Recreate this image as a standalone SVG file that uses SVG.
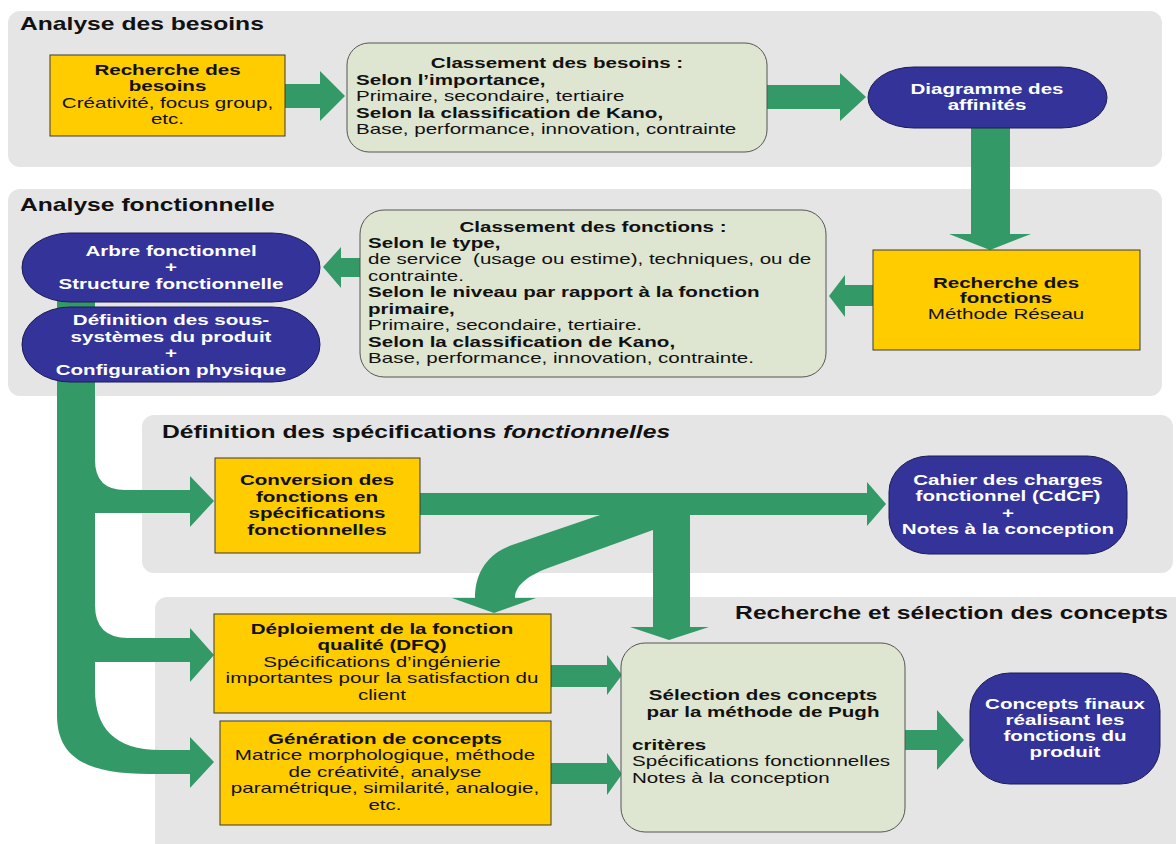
<svg xmlns="http://www.w3.org/2000/svg" width="1176" height="844" viewBox="0 0 1176 844">
<style>
.panel{fill:#e5e5e5}
.yel{fill:#ffcc00;stroke:#3a3a3a;stroke-width:1}
.grn{fill:#dee5d0;stroke:#555;stroke-width:1}
.nav{fill:#333399;stroke:#1c1c55;stroke-width:1}
.arr{fill:#339966}
text{font-family:"Liberation Sans",Arial,sans-serif;font-size:15px;fill:#111}
.b{font-weight:bold}
.w{fill:#fff}
.h{font-size:18px;font-weight:bold}
.c{text-anchor:middle}
</style>
<rect width="1176" height="844" fill="#fff"/>
<g id="panels">
<rect class="panel" x="8" y="11" width="1154" height="156" rx="12"/>
<rect class="panel" x="8" y="189" width="1154" height="207" rx="12"/>
<rect class="panel" x="142" y="415" width="1031" height="158" rx="12"/>
<rect class="panel" x="155" y="597" width="1040" height="260" rx="12"/>
<text class="h" transform="translate(20,30) scale(1.37,1)">Analyse des besoins</text>
<text class="h" transform="translate(20,211) scale(1.37,1)">Analyse fonctionnelle</text>
<text class="h" transform="translate(162,438) scale(1.37,1)">Définition des spécifications <tspan font-style="italic">fonctionnelles</tspan></text>
<text class="h" text-anchor="end" transform="translate(1168,619) scale(1.37,1)">Recherche et sélection des concepts</text>
</g>
<g id="connectors">
<path class="arr" d="M285,84 L320,84 L320,71 L345,96 L320,121 L320,108 L285,108 Z"/>
<path class="arr" d="M767,85 L840,85 L840,73 L866,97 L840,121 L840,109 L767,109 Z"/>
<path class="arr" d="M971,128 L1010,128 L1010,234 L1031,234 L990,250 L949,234 L971,234 Z"/>
<path class="arr" d="M873,285 L845,285 L845,275 L829,296 L845,317 L845,306 L873,306 Z"/>
<path class="arr" d="M360,258 L341,258 L341,247 L323,267 L341,288 L341,277 L360,277 Z"/>
<path class="arr" d="M57,290 L95,290 L95,460 Q95,490 125,490 L190,490 L190,476 L214,501 L190,527 L190,513 L95,513 L95,605 Q95,638 128,638 L190,638 L190,628 L214,655 L190,682 L190,662 L95,662 L95,690 C95,728 115,750 160,750 L190,750 L190,737 L214,762 L190,788 L190,774 L150,774 C90,774 57,760 57,715 Z"/>
<path class="arr" d="M420,493 L867,493 L867,482 L886,504 L867,526 L867,515 L420,515 Z"/>
<path class="arr" d="M653,514 L690,514 L690,627 L709,627 L669,640 L630,627 L653,627 Z"/>
<path class="arr" d="M603,514 L653,514 L653,530 L548,568 C527,576 515,586 515,598 L536,598 L494,613 L452,598 L475,598 C475,570 490,553 512,545 Z"/>
<path class="arr" d="M551,665 L607,665 L607,655 L622,675 L607,695 L607,687 L551,687 Z"/>
<path class="arr" d="M551,763 L607,763 L607,753 L622,774 L607,795 L607,784 L551,784 Z"/>
<path class="arr" d="M905,730 L937,730 L937,710 L964,740 L937,770 L937,750 L905,750 Z"/>
</g>
<g id="n-recherche-besoins">
<rect class="yel" x="50" y="55" width="235" height="81"/>
<text class="c" transform="translate(167.5,75) scale(1.37,1)"><tspan class="b" x="0" y="0">Recherche des</tspan><tspan class="b" x="0" y="16.5">besoins</tspan><tspan x="0" y="33">Créativité, focus group,</tspan><tspan x="0" y="49.5">etc.</tspan></text>
</g>
<g id="n-classement-besoins">
<rect class="grn" x="347" y="43" width="420" height="109" rx="22"/>
<text class="b c" transform="translate(557,68) scale(1.37,1)">Classement des besoins :</text>
<text transform="translate(356,85) scale(1.37,1)"><tspan class="b" x="0" y="0">Selon l’importance,</tspan><tspan x="0" y="16.5">Primaire, secondaire, tertiaire</tspan><tspan class="b" x="0" y="33">Selon la classification de Kano,</tspan><tspan x="0" y="49.5">Base, performance, innovation, contrainte</tspan></text>
</g>
<g id="n-diagramme">
<rect class="nav" x="868" y="67" width="239" height="61" rx="46" ry="30.5"/>
<text class="b w c" transform="translate(987,94) scale(1.37,1)"><tspan x="0" y="0">Diagramme des</tspan><tspan x="0" y="16">affinités</tspan></text>
</g>
<g id="n-recherche-fonctions">
<rect class="yel" x="873" y="250" width="267" height="100"/>
<text class="c" transform="translate(1006,288) scale(1.37,1)"><tspan class="b" x="0" y="0">Recherche des</tspan><tspan class="b" x="0" y="15.5">fonctions</tspan><tspan x="0" y="31">Méthode Réseau</tspan></text>
</g>
<g id="n-classement-fonctions">
<rect class="grn" x="360" y="210" width="466" height="167" rx="24"/>
<text class="b c" transform="translate(593,232) scale(1.37,1)">Classement des fonctions :</text>
<text transform="translate(368,248) scale(1.37,1)"><tspan class="b" x="0" y="0">Selon le type,</tspan><tspan x="0" y="16.5">de service&#160; (usage ou estime), techniques, ou de</tspan><tspan x="0" y="33">contrainte.</tspan><tspan class="b" x="0" y="49.5">Selon le niveau par rapport à la fonction</tspan><tspan class="b" x="0" y="66">primaire,</tspan><tspan x="0" y="82.5">Primaire, secondaire, tertiaire.</tspan><tspan class="b" x="0" y="99">Selon la classification de Kano,</tspan><tspan x="0" y="115.5">Base, performance, innovation, contrainte.</tspan></text>
</g>
<g id="n-arbre">
<rect class="nav" x="22" y="233" width="298" height="69" rx="48" ry="34.5"/>
<text class="b w c" transform="translate(171,256) scale(1.37,1)"><tspan x="0" y="0">Arbre fonctionnel</tspan><tspan x="0" y="16.5">+</tspan><tspan x="0" y="33">Structure fonctionnelle</tspan></text>
</g>
<g id="n-definition">
<rect class="nav" x="22" y="307" width="298" height="75" rx="48" ry="37.5"/>
<text class="b w c" transform="translate(171,325) scale(1.37,1)"><tspan x="0" y="0">Définition des sous-</tspan><tspan x="0" y="16.7">systèmes du produit</tspan><tspan x="0" y="33.3">+</tspan><tspan x="0" y="50">Configuration physique</tspan></text>
</g>
<g id="n-conversion">
<rect class="yel" x="215" y="458" width="205" height="95"/>
<text class="b c" transform="translate(317,485) scale(1.37,1)"><tspan x="0" y="0">Conversion des</tspan><tspan x="0" y="16.7">fonctions en</tspan><tspan x="0" y="33.3">spécifications</tspan><tspan x="0" y="50">fonctionnelles</tspan></text>
</g>
<g id="n-cdcf">
<rect class="nav" x="889" y="456" width="238" height="98" rx="40" ry="36"/>
<text class="b w c" transform="translate(1008,485) scale(1.37,1)"><tspan x="0" y="0">Cahier des charges</tspan><tspan x="0" y="16.3">fonctionnel (CdCF)</tspan><tspan x="0" y="32.7">+</tspan><tspan x="0" y="49">Notes à la conception</tspan></text>
</g>
<g id="n-deploiement">
<rect class="yel" x="214" y="614" width="337" height="99"/>
<text class="c" transform="translate(382,634) scale(1.37,1)"><tspan class="b" x="0" y="0">Déploiement de la fonction</tspan><tspan class="b" x="0" y="16.5">qualité (DFQ)</tspan><tspan x="0" y="33">Spécifications d’ingénierie</tspan><tspan x="0" y="49.5">importantes pour la satisfaction du</tspan><tspan x="0" y="66">client</tspan></text>
</g>
<g id="n-generation">
<rect class="yel" x="220" y="721" width="331" height="104"/>
<text class="c" transform="translate(385,744) scale(1.37,1)"><tspan class="b" x="0" y="0">Génération de concepts</tspan><tspan x="0" y="16.5">Matrice morphologique, méthode</tspan><tspan x="0" y="33">de créativité, analyse</tspan><tspan x="0" y="49.5">paramétrique, similarité, analogie,</tspan><tspan x="0" y="66">etc.</tspan></text>
</g>
<g id="n-selection">
<rect class="grn" x="621" y="643" width="284" height="189" rx="24"/>
<text class="b c" transform="translate(763,700) scale(1.37,1)"><tspan x="0" y="0">Sélection des concepts</tspan><tspan x="0" y="17">par la méthode de Pugh</tspan></text>
<text transform="translate(632,750) scale(1.37,1)"><tspan class="b" x="0" y="0">critères</tspan><tspan x="0" y="16.5">Spécifications fonctionnelles</tspan><tspan x="0" y="33">Notes à la conception</tspan></text>
</g>
<g id="n-concepts-finaux">
<rect class="nav" x="970" y="673" width="190" height="111" rx="40" ry="38"/>
<text class="b w c" transform="translate(1065,709) scale(1.37,1)"><tspan x="0" y="0">Concepts finaux</tspan><tspan x="0" y="16">réalisant les</tspan><tspan x="0" y="32">fonctions du</tspan><tspan x="0" y="48">produit</tspan></text>
</g>
</svg>
